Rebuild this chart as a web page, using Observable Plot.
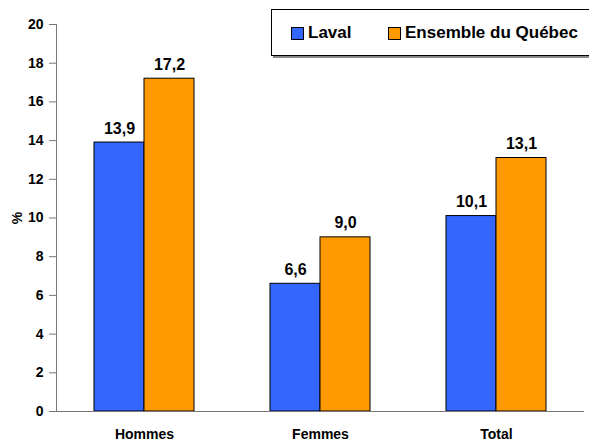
<!DOCTYPE html>
<html>
<head>
<meta charset="utf-8">
<script src="https://cdn.jsdelivr.net/npm/d3@7"></script>
<script src="https://cdn.jsdelivr.net/npm/@observablehq/plot@0.6"></script>
<style>
  html, body { margin: 0; padding: 0; background: #fff; }
  #wrap { position: relative; width: 589px; height: 441px; font-family: "Liberation Sans", Arial, sans-serif; }
  #legend { position: absolute; left: 271px; top: 9px; width: 330px; height: 47px; border: 1px solid #000; box-shadow: 2px 2px 0 #888; background: #fff; box-sizing: border-box; font-weight: bold; font-size: 17px; color: #000; }
  .item { position: absolute; top: 13px; display: flex; align-items: center; }
  .sw { width: 11px; height: 11px; border: 1px solid #000; margin-right: 4px; }
</style>
</head>
<body>
<div id="wrap">
  <div id="chart"></div>
  <div id="legend"></div>
</div>
<script>
const categories = ["Hommes", "Femmes", "Total"];
const series = ["Laval", "Ensemble du Québec"];
const laval = [13.9, 6.6, 10.1];
const quebec = [17.2, 9.0, 13.1];
const yTicks = [0, 2, 4, 6, 8, 10, 12, 14, 16, 18, 20];
const colors = ["#3366FF", "#FF9900"];

const rows = [];
categories.forEach((c, i) => {
  rows.push({cat: c, series: series[0], value: laval[i]});
  rows.push({cat: c, series: series[1], value: quebec[i]});
});
const fmt = v => v.toFixed(1).replace(".", ",");

const bw = 50, gapOuter = 38;
const chart = Plot.plot({
  width: 589,
  height: 441,
  marginLeft: 56,
  marginRight: 5,
  marginTop: 24,
  marginBottom: 30,
  style: {fontFamily: "'Liberation Sans', Arial, sans-serif", fontWeight: "bold", fontSize: "14px", color: "#000", background: "#fff"},
  x: {domain: categories, padding: 0, label: null},
  y: {domain: [0, 20], label: null},
  color: {domain: series, range: colors},
  marks: [
    Plot.barY(rows.filter(d => d.series === series[0]), {x: "cat", y: "value", fill: "series", stroke: "#000", strokeWidth: 1, insetLeft: gapOuter, insetRight: 176 - gapOuter - bw}),
    Plot.barY(rows.filter(d => d.series === series[1]), {x: "cat", y: "value", fill: "series", stroke: "#000", strokeWidth: 1, insetLeft: gapOuter + bw, insetRight: gapOuter}),
    Plot.text(rows.filter(d => d.series === series[0]), {x: "cat", y: "value", text: d => fmt(d.value), dx: -(bw / 2), dy: -14, fontSize: 16, fontWeight: "bold", fill: "#000"}),
    Plot.text(rows.filter(d => d.series === series[1]), {x: "cat", y: "value", text: d => fmt(d.value), dx: bw / 2, dy: -14, fontSize: 16, fontWeight: "bold", fill: "#000"}),
    Plot.axisY({ticks: yTicks, tickSize: 7, tickPadding: 6, fontSize: 14, stroke: "#777", fill: "#000", label: "%", labelAnchor: "center", labelArrow: "none", labelOffset: 44}),
    Plot.axisX({tickSize: 0, tickPadding: 18, fontSize: 14, fill: "#000", label: null}),
    Plot.frame({anchor: "left", stroke: "#777"}),
    Plot.ruleY([0], {stroke: "#777"})
  ]
});
document.getElementById("chart").appendChild(chart);

const legend = document.getElementById("legend");
const lefts = [19, 116];
series.forEach((s, i) => {
  const it = document.createElement("div");
  it.className = "item";
  it.style.left = lefts[i] + "px";
  const sw = document.createElement("div");
  sw.className = "sw";
  sw.style.background = colors[i];
  const t = document.createElement("span");
  t.textContent = s;
  it.appendChild(sw);
  it.appendChild(t);
  legend.appendChild(it);
});
</script>
</body>
</html>
